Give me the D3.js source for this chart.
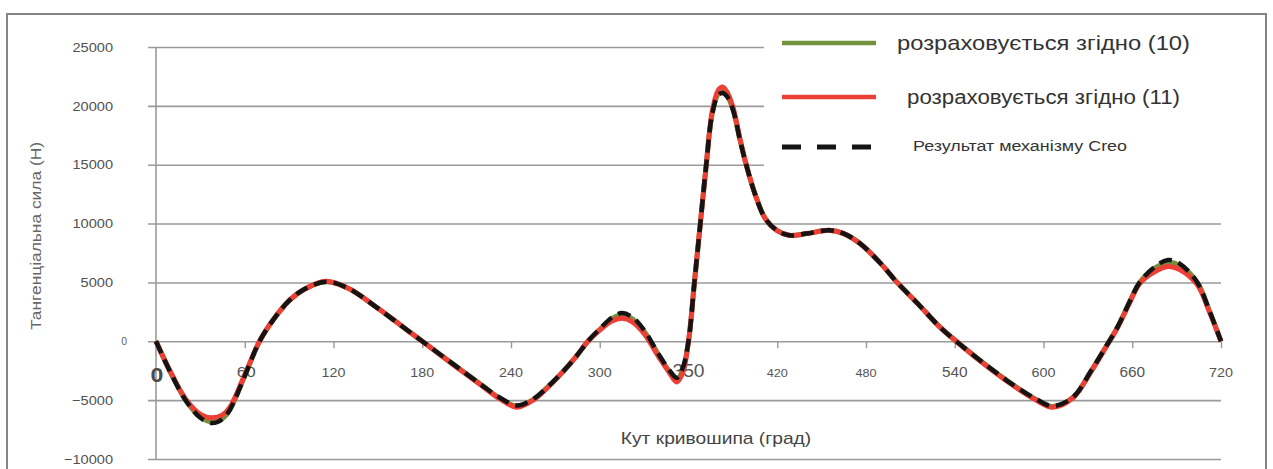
<!DOCTYPE html>
<html>
<head>
<meta charset="utf-8">
<script src="https://cdn.jsdelivr.net/npm/d3@7"></script>
<style>
  body { margin: 0; background: #fff; }
  svg { display: block; }
  text { font-family: "Liberation Sans", Arial, sans-serif; }
</style>
</head>
<body>
<svg id="chart" width="1273" height="469"></svg>
<script>
// Crank angle (degrees) at which the tangential force was sampled
const angles = [0, 10, 20, 30, 38, 45, 50, 60, 70, 80,
  90, 100, 115, 130, 150, 165, 180, 200, 220, 232,
  244, 255, 265, 275, 284, 292, 300, 308, 315, 322,
  330, 340, 347, 352, 356, 360, 364, 368, 372, 376,
  380, 383, 386, 390, 395, 399, 405, 412, 420, 428,
  440, 455, 465, 476, 490, 501, 515, 530, 541, 560,
  580, 595, 606, 620, 632, 642, 650, 658, 665, 675,
  684, 692, 704, 712, 720];

// Tangential force, N — formula (10)
const eq10 = [0, -2700, -5000, -6450, -6850, -6550, -5800, -2950, 0, 1950,
  3450, 4400, 5050, 4500, 2800, 1400, 0, -1850, -3700, -4800,
  -5500, -4950, -3850, -2600, -1300, 0, 1000, 1900, 2250, 1900,
  850, -1200, -2550, -3250, -2450, 0, 5000, 10000, 15000, 19300,
  21000, 21250, 20900, 19700, 17000, 15000, 12500, 10400, 9400, 9000,
  9150, 9430, 9150, 8300, 6600, 5000, 3200, 1200, 0, -1900,
  -3750, -4950, -5550, -4750, -2550, -500, 1200, 3300, 5000, 6200,
  6700, 6450, 5000, 2650, 0];

// Tangential force, N — formula (11)
const eq11 = [0, -2650, -4900, -6200, -6500, -6250, -5600, -2850, 0, 1950,
  3450, 4400, 5100, 4500, 2800, 1400, 0, -1900, -3750, -4850,
  -5600, -5000, -3900, -2600, -1300, 0, 950, 1700, 1950, 1650,
  650, -1350, -2650, -3450, -2700, 0, 5000, 10000, 15000, 19500,
  21300, 21600, 21200, 19900, 17100, 15000, 12500, 10400, 9400, 9000,
  9150, 9430, 9150, 8300, 6600, 5000, 3200, 1200, 0, -1950,
  -3800, -5000, -5600, -4800, -2600, -550, 1150, 3200, 4900, 5900,
  6350, 6100, 4800, 2550, 0];

// Tangential force, N — Creo mechanism result
const creo = [0, -2700, -5000, -6500, -6950, -6600, -5800, -2950, 0, 1950,
  3450, 4400, 5050, 4500, 2800, 1400, 0, -1850, -3700, -4750,
  -5450, -4900, -3850, -2600, -1300, 0, 1050, 2000, 2400, 2050,
  950, -1150, -2450, -3100, -2300, 0, 5000, 10000, 15000, 19300,
  20900, 21100, 20800, 19700, 17000, 15000, 12500, 10400, 9400, 9000,
  9150, 9430, 9150, 8300, 6600, 5000, 3200, 1200, 0, -1900,
  -3750, -4900, -5500, -4750, -2550, -500, 1200, 3300, 5000, 6300,
  6900, 6600, 5000, 2650, 0];

const yTicks = [-10000, -5000, 0, 5000, 10000, 15000, 20000, 25000];
const xTicks = [0, 60, 120, 180, 240, 300, 360, 420, 480, 540, 600, 660, 720];
const xTickLabels = ["0", "60", "120", "180", "240", "300", "350", "420", "480", "540", "600", "660", "720"];
const seriesNames = ["розраховується згідно (10)", "розраховується згідно (11)", "Результат механізму Creo"];
const xTitle = "Кут кривошипа (град)";
const yTitle = "Тангенціальна сила (Н)";

const svg = d3.select("#chart");

const x = d3.scaleLinear().domain([0, 720]).range([156, 1221]);
const y = d3.scaleLinear().domain([-10000, 25000]).range([459, 47]);

// widen glyphs horizontally by a factor, keeping the anchor point
function widen(sel, k) {
  sel.each(function () {
    const w = this.getComputedTextLength();
    d3.select(this).attr("textLength", w * k).attr("lengthAdjust", "spacingAndGlyphs");
  });
}

// outer frame
svg.append("rect")
  .attr("x", 7).attr("y", 14).attr("width", 1259).attr("height", 480)
  .attr("fill", "#fff").attr("stroke", "#858585").attr("stroke-width", 2);

// horizontal grid + y labels
const yAxis = svg.append("g")
  .attr("transform", "translate(148,0)")
  .call(d3.axisLeft(y).tickValues(yTicks).tickSize(-(1221 - 148)).tickPadding(35)
    .tickFormat(d3.format("d")));
yAxis.select(".domain").remove();
yAxis.selectAll(".tick line").attr("stroke", "#9a9a9a").attr("stroke-width", 1.6);
yAxis.selectAll(".tick text")
  .attr("fill", "#505050")
  .style("font-size", "13px")
  .call(widen, 1.12)
  .filter(d => d === 0)
  .attr("x", -21).attr("textLength", null).style("font-size", "10.5px").attr("fill", "#666");

// vertical axis line
svg.append("line")
  .attr("x1", x(0)).attr("x2", x(0))
  .attr("y1", y(25000)).attr("y2", y(-10000))
  .attr("stroke", "#9a9a9a").attr("stroke-width", 1.6);

// x axis ticks on the zero line
const xAxis = svg.append("g")
  .attr("transform", `translate(0,${y(0)})`)
  .call(d3.axisBottom(x).tickValues(xTicks.slice(1)).tickSize(7).tickFormat(""));
xAxis.select(".domain").remove();
xAxis.selectAll(".tick line").attr("stroke", "#9a9a9a").attr("stroke-width", 1.4);

// x tick labels
const labelSize = { "0": 21, "60": 15.5, "350": 17.5, "420": 11.5, "480": 11.5, "540": 14, "660": 14 };
svg.append("g").selectAll("text")
  .data(xTicks)
  .join("text")
  .attr("x", (d, i) => x(d) + (i === 0 ? 1 : i === 1 ? 1.5 : 0))
  .attr("y", (d, i) => i === 0 ? 382 : 377)
  .attr("text-anchor", "middle")
  .attr("fill", (d, i) => i === 0 ? "#4a4a4a" : "#555")
  .style("font-weight", (d, i) => i === 0 ? "bold" : "normal")
  .style("font-size", (d, i) => (labelSize[xTickLabels[i]] || 13) + "px")
  .text((d, i) => xTickLabels[i])
  .call(widen, 1.1);

// axis titles
svg.append("text")
  .attr("x", 716).attr("y", 444)
  .attr("text-anchor", "middle")
  .attr("fill", "#444").style("font-size", "17px")
  .text(xTitle)
  .call(widen, 1.13);

svg.append("text")
  .attr("transform", "translate(41,236) rotate(-90)")
  .attr("text-anchor", "middle")
  .attr("fill", "#666").style("font-size", "15.5px")
  .text(yTitle)
  .call(widen, 1.12);

// legend panel
svg.append("rect")
  .attr("x", 764).attr("y", 24).attr("width", 470).attr("height", 150)
  .attr("fill", "#fff");

const lineGen = vals => d3.line()
  .x((d, i) => x(angles[i]))
  .y(d => y(d))
  .curve(d3.curveCatmullRom.alpha(0.5))(vals);

const series = [
  { vals: eq10, color: "#72923d", width: 5, dash: null },
  { vals: eq11, color: "#ec3f36", width: 5, dash: null },
  { vals: creo, color: "#141414", width: 4.5, dash: "13,7" }
];

svg.append("g").selectAll("path")
  .data(series)
  .join("path")
  .attr("d", s => lineGen(s.vals))
  .attr("fill", "none")
  .attr("stroke", s => s.color)
  .attr("stroke-width", s => s.width)
  .attr("stroke-dasharray", s => s.dash)
  .attr("stroke-linejoin", "round");

// legend entries
const legendRows = [
  { y: 43, tx: 897, ty: 50, size: 21, w: 293, dash: null },
  { y: 97, tx: 907, ty: 104, size: 20, w: 273, dash: null },
  { y: 147, tx: 913, ty: 151, size: 14, w: 214, dash: "19,16" }
];
const leg = svg.append("g");
legendRows.forEach((r, i) => {
  leg.append("line")
    .attr("x1", 782).attr("x2", 876).attr("y1", r.y).attr("y2", r.y)
    .attr("stroke", series[i].color).attr("stroke-width", i === 2 ? 5 : 4.5)
    .attr("stroke-dasharray", r.dash);
  leg.append("text")
    .attr("x", r.tx).attr("y", r.ty)
    .attr("fill", "#333").style("font-size", r.size + "px")
    .attr("textLength", r.w).attr("lengthAdjust", "spacingAndGlyphs")
    .text(seriesNames[i]);
});
</script>
</body>
</html>
